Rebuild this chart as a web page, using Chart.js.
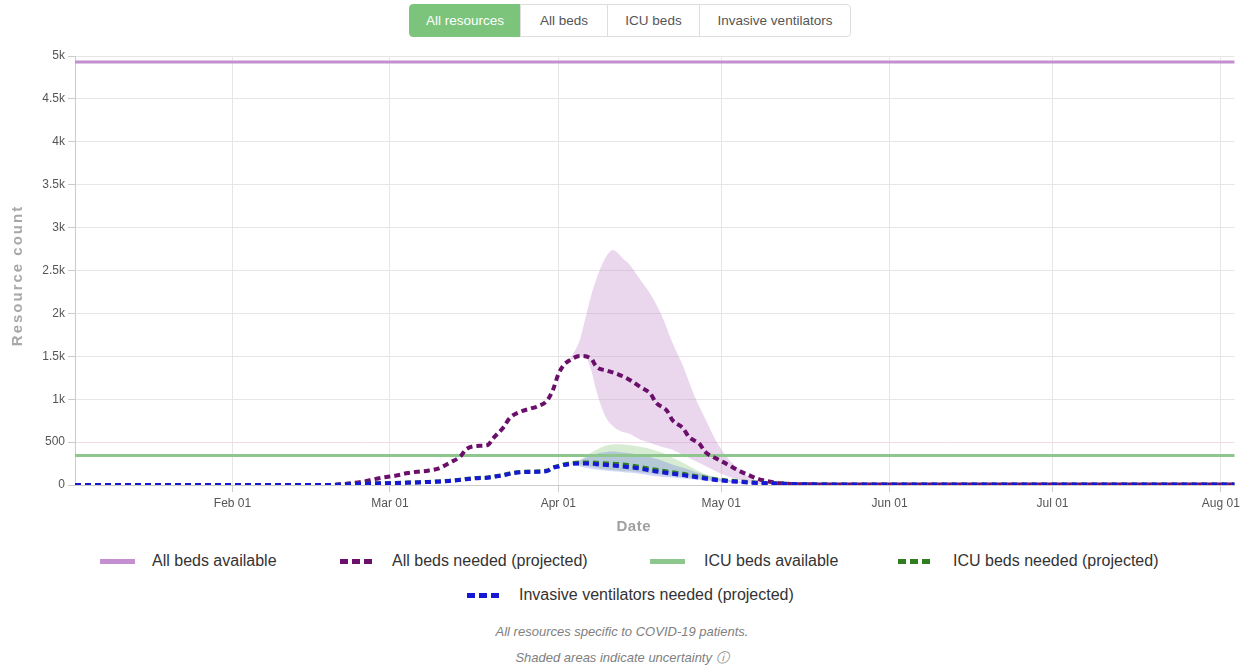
<!DOCTYPE html>
<html><head><meta charset="utf-8">
<script src="https://cdn.jsdelivr.net/npm/chart.js@4.4.1/dist/chart.umd.min.js"></script>
<style>
html,body{margin:0;padding:0;background:#fff;width:1244px;height:666px;overflow:hidden;font-family:'Liberation Sans',Arial,sans-serif;}
#btns{position:absolute;left:409px;top:4px;height:33px;display:flex;}
.btn{box-sizing:border-box;height:33px;line-height:31px;border:1px solid #ddd;font-size:13.5px;color:#555;text-align:center;background:#fff;margin-left:-1px;}
.btn.on{background:#7cc47c;border-color:#7cc47c;color:#fff;border-radius:4px 0 0 4px;margin-left:0}
.btn.last{border-radius:0 4px 4px 0}
#wrap{position:absolute;left:0;top:40px;width:1244px;height:500px;}
.lg{position:absolute;font-size:16px;color:#333;line-height:20px;white-space:nowrap}
.sym{position:absolute;height:5px;width:35px}
.note{position:absolute;left:0;width:1244px;text-align:center;font-size:13px;font-style:italic;color:#808080;}
</style></head>
<body>
<div id="btns">
  <div class="btn on" style="width:112px">All resources</div>
  <div class="btn" style="width:88px">All beds</div>
  <div class="btn" style="width:93px">ICU beds</div>
  <div class="btn last" style="width:152px">Invasive ventilators</div>
</div>
<div id="wrap"><canvas id="c" width="1244" height="500"></canvas></div>
<div id="legend"></div>
<div class="note" style="top:624px">All resources specific to COVID-19 patients.</div>
<div class="note" style="top:649px">Shaded areas indicate uncertainty ⓘ</div>
<script>
// ---------- data ----------
const tickDates = ['2020-02-01','2020-03-01','2020-04-01','2020-05-01','2020-06-01','2020-07-01','2020-08-01'];
const tickLabels = ['Feb 01','Mar 01','Apr 01','May 01','Jun 01','Jul 01','Aug 01'];
const yTickLabels = ['0','500','1k','1.5k','2k','2.5k','3k','3.5k','4k','4.5k','5k'];

const availableDates = ['2020-01-03','2020-08-04'];
const allBedsAvailable = [4930, 4930];
const icuBedsAvailable = [345, 345];

const dates = ['2020-01-03','2020-02-19','2020-02-22','2020-02-25','2020-02-27','2020-02-29',
 '2020-03-02','2020-03-04','2020-03-06','2020-03-08','2020-03-10','2020-03-12','2020-03-14','2020-03-15',
 '2020-03-17','2020-03-19','2020-03-20','2020-03-22','2020-03-23','2020-03-25','2020-03-27','2020-03-28',
 '2020-03-30','2020-03-31','2020-04-01','2020-04-02','2020-04-03','2020-04-05','2020-04-07','2020-04-08',
 '2020-04-10','2020-04-12','2020-04-14','2020-04-16','2020-04-18','2020-04-19','2020-04-21','2020-04-22',
 '2020-04-24','2020-04-25','2020-04-27','2020-04-28','2020-04-30','2020-05-02','2020-05-04','2020-05-06',
 '2020-05-08','2020-05-10','2020-05-12','2020-05-15','2020-05-30','2020-08-04'];
const allBedsNeeded = [0,0,15,38,66,90,108,136,155,167,195,260,335,415,455,466,544,680,777,854,893,912,
 990,1107,1290,1398,1450,1503,1476,1379,1332,1290,1230,1146,1060,959,866,757,660,563,478,388,311,245,175,
 117,66,38,20,10,5,5];
const icuBedsNeeded = [0,0,8,16,19,21,24,28,31,36,42,50,62,70,83,88,98,118,134,152,157,158,170,206,222,240,
 252,262,262,258,252,245,230,210,188,178,158,148,130,118,97,86,68,54,43,34,26,22,17,11,6,5];
const ventilatorsNeeded = [0,0,8,15,18,20,23,27,30,35,40,48,60,68,80,85,95,115,130,148,152,153,165,200,215,
 233,243,252,250,243,233,222,208,192,168,158,140,130,115,105,85,75,58,47,37,30,23,20,15,10,5,5];

const bandDates = ['2020-04-03','2020-04-04','2020-04-05','2020-04-06','2020-04-07','2020-04-08','2020-04-09',
 '2020-04-10','2020-04-11','2020-04-12','2020-04-13','2020-04-14','2020-04-16','2020-04-18','2020-04-20',
 '2020-04-22','2020-04-24','2020-04-26','2020-04-28','2020-04-30','2020-05-02','2020-05-04','2020-05-06',
 '2020-05-08','2020-05-12','2020-05-20'];
const allBedsUpper = [1450,1560,1700,1950,2200,2400,2560,2680,2738,2700,2630,2580,2400,2220,1980,1660,1380,
 1050,780,520,330,200,100,40,10,5];
const allBedsLower = [1450,1480,1503,1490,1350,1100,900,760,690,640,615,600,530,490,445,410,350,285,225,160,
 105,65,36,20,8,5];
const icuUpper = [252,270,295,335,375,410,440,462,472,475,472,466,445,420,378,320,255,190,130,90,62,42,30,22,14,6];
const icuLower = [252,250,240,225,212,200,190,182,176,170,166,162,150,138,120,105,92,80,68,55,44,35,27,20,12,5];
const ventUpper = [243,260,285,315,340,362,378,386,389,386,380,372,350,322,285,240,200,158,120,85,60,42,30,22,13,6];
const ventLower = [243,235,215,200,190,180,172,165,160,156,150,145,130,112,97,88,76,64,52,40,32,25,20,15,10,5];

// ---------- build ----------
const DAY0 = Date.parse('2020-01-01');
const dayOf = s => (Date.parse(s) - DAY0) / 864e5;
const pts = (ds, vs) => ds.map((d, i) => ({x: dayOf(d), y: vs[i]}));
const tickDays = tickDates.map(dayOf);

const C = {
  allAvail:'#c48fd0', allNeed:'#6a0f6a', icuAvail:'#8dc78d', icuNeed:'#2e7d1e', vent:'#1717d6'
};

Chart.defaults.font.family = "'Liberation Sans', Arial, sans-serif";

const dashed = (label, data, color) => ({label, data, borderColor:color, borderWidth:4, borderDash:[6,4],
  borderCapStyle:'butt', pointRadius:0, fill:false, cubicInterpolationMode:'monotone'});
const solid = (label, data, color) => ({label, data, borderColor:color, borderWidth:3, pointRadius:0, fill:false});
const band = (data, color, target) => ({label:'', data, borderWidth:0, borderColor:'rgba(0,0,0,0)', pointRadius:0,
  backgroundColor:color, fill: target === null ? false : {target}, cubicInterpolationMode:'monotone'});

const datasets = [
  dashed('Invasive ventilators needed (projected)', pts(dates, ventilatorsNeeded), C.vent),   //0
  dashed('ICU beds needed (projected)', pts(dates, icuBedsNeeded), C.icuNeed),                //1
  dashed('All beds needed (projected)', pts(dates, allBedsNeeded), C.allNeed),                //2
  solid('ICU beds available', pts(availableDates, icuBedsAvailable), C.icuAvail),             //3
  solid('All beds available', pts(availableDates, allBedsAvailable), C.allAvail),             //4
  band(pts(bandDates, ventUpper), 'rgba(90,110,220,0.28)', 6),                                //5
  band(pts(bandDates, ventLower), 'rgba(0,0,0,0)', null),                                     //6
  band(pts(bandDates, icuUpper), 'rgba(140,200,130,0.35)', 8),                                //7
  band(pts(bandDates, icuLower), 'rgba(0,0,0,0)', null),                                      //8
  band(pts(bandDates, allBedsUpper), 'rgba(195,140,205,0.35)', 10),                           //9
  band(pts(bandDates, allBedsLower), 'rgba(0,0,0,0)', null)                                   //10
];

const spacing = {
  id:'titleSpacing',
  beforeDraw(chart){
    const y = chart.scales.y;
    if (y && !y._sp){
      const orig = y.drawTitle;
      y.drawTitle = function(){ const c = this.ctx; c.save(); c.translate(0, 5); c.letterSpacing = '2px'; orig.apply(this, arguments); c.restore(); };
      y._sp = true;
    }
    const x = chart.scales.x;
    if (x && !x._sp){
      const orig = x.drawTitle;
      x.drawTitle = function(){ const c = this.ctx; c.save(); c.translate(-21, 0); c.letterSpacing = '0.5px'; orig.apply(this, arguments); c.restore(); };
      x._sp = true;
    }
  }
};

new Chart(document.getElementById('c'), {
  type:'line',
  data:{datasets},
  plugins:[spacing],
  options:{
    responsive:false, animation:false,
    layout:{padding:{top:16, right:9, left:0, bottom:0}},
    plugins:{legend:{display:false}, tooltip:{enabled:false}},
    scales:{
      x:{type:'linear', min:2, max:215.5,
        afterBuildTicks: s => { s.ticks = tickDays.map(v => ({value:v})); },
        afterFit: s => { s.height = 55; },
        ticks:{autoSkip:false, maxRotation:0, color:'#555', font:{size:12}, padding:4,
          callback:(v, i) => tickLabels[i]},
        grid:{color:'#e6e6e6', tickColor:'#ccc', tickLength:7},
        border:{color:'#ccc'},
        title:{display:true, text:'Date', color:'#a0a0a0', font:{size:15, weight:'bold'}, padding:{top:0, bottom:4}}
      },
      y:{min:0, max:5000,
        afterFit: s => { s.width = 75; },
        ticks:{stepSize:500, color:'#555', font:{size:12}, padding:3,
          callback:(v) => yTickLabels[Math.round(v/500)]},
        grid:{color: c => (c.tick && c.tick.value === 500) ? '#f2dbe6' : '#e6e6e6', tickColor:'#ccc', tickLength:7},
        border:{color:'#ccc'},
        title:{display:true, text:'Resource count', color:'#a8a8a8', font:{size:15, weight:'bold'}, padding:{top:9, bottom:0}}
      }
    }
  }
});

// ---------- HTML legend ----------
const legendItems = [
  {label:'All beds available', color:C.allAvail, dash:false, sx:100, tx:152, y:561},
  {label:'All beds needed (projected)', color:C.allNeed, dash:true, sx:340, tx:392, y:561},
  {label:'ICU beds available', color:C.icuAvail, dash:false, sx:650, tx:704, y:561},
  {label:'ICU beds needed (projected)', color:C.icuNeed, dash:true, sx:898, tx:953, y:561},
  {label:'Invasive ventilators needed (projected)', color:C.vent, dash:true, sx:467, tx:519, y:595}
];
const lg = document.getElementById('legend');
legendItems.forEach(it => {
  const s = document.createElement('div');
  s.className = 'sym';
  s.style.left = it.sx + 'px'; s.style.top = (it.y - 2) + 'px';
  s.style.background = it.dash
    ? `repeating-linear-gradient(90deg, ${it.color} 0 8px, transparent 8px 12px)`
    : it.color;
  lg.appendChild(s);
  const t = document.createElement('div');
  t.className = 'lg'; t.textContent = it.label;
  t.style.left = it.tx + 'px'; t.style.top = (it.y - 10) + 'px';
  lg.appendChild(t);
});
</script>
</body></html>
